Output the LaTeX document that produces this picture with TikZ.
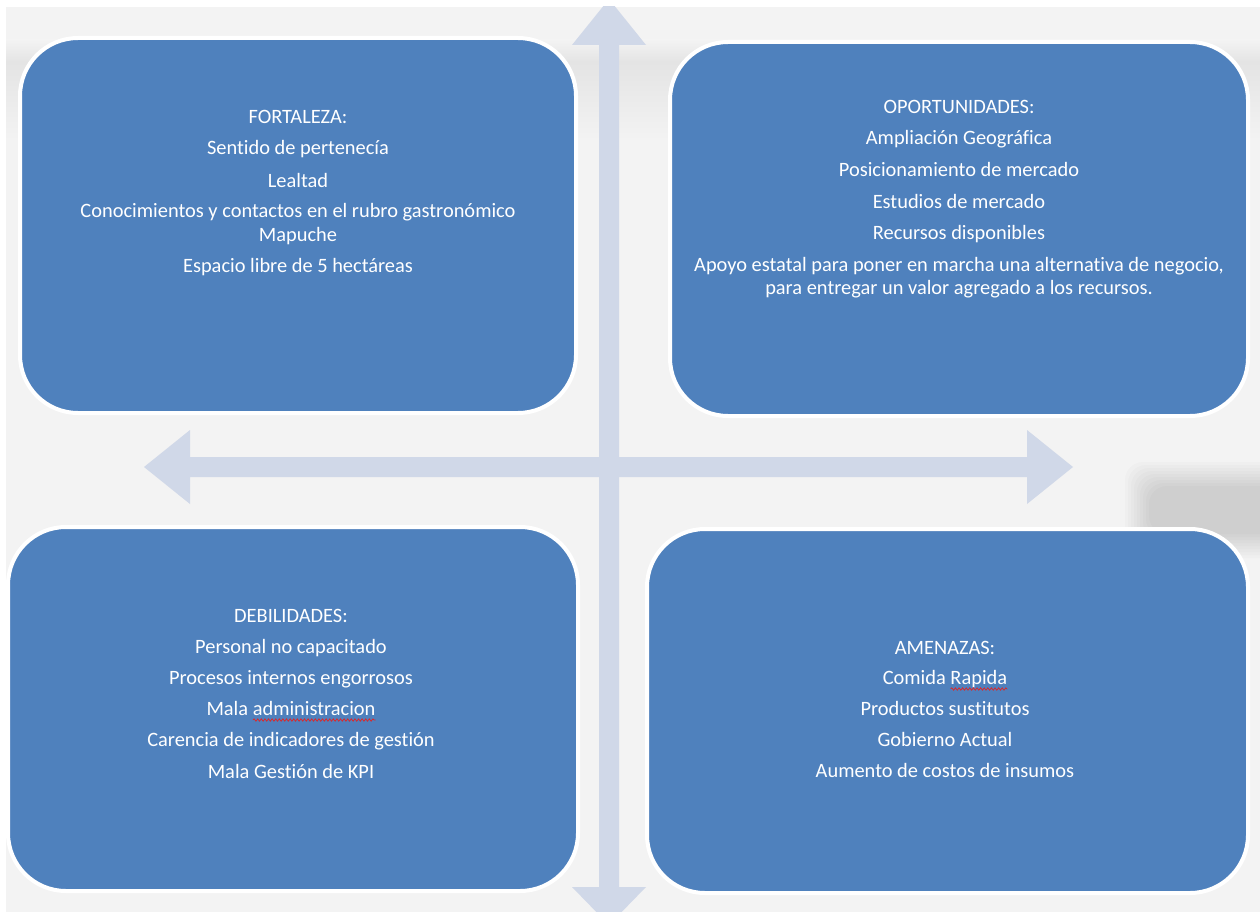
\documentclass[tikz,border=0pt]{standalone}
\usepackage{fontspec}
\setmainfont{Carlito}[Ligatures=NoCommon]
\usetikzlibrary{calc,decorations.pathmorphing}
\definecolor{swotblue}{HTML}{4F81BD}
\definecolor{axisblue}{HTML}{D0D8E8}
\definecolor{paper}{HTML}{F3F3F3}
\definecolor{paperdark}{HTML}{E4E4E4}
\definecolor{spellred}{HTML}{E02424}

\begin{document}
\begin{tikzpicture}[x=1pt,y=-1pt,
  swotbox/.style={draw=white, line width=4pt, fill=swotblue, rounded corners=58pt, inner sep=0pt},
  swotline/.style={text=white, font=\fontsize{20.4}{24}\selectfont, inner sep=0pt, anchor=base},
  axisfill/.style={fill=axisblue},
  spellwave/.style={draw=spellred, line width=0.7pt, decorate,
    decoration={snake, amplitude=1.2pt, segment length=3.6pt}}]
\fontsize{20.4}{24}\selectfont
\useasboundingbox (0,0) rectangle (1260,912);
\fill[white] (0,0) rectangle (1260,912);

\begin{scope}
\clip (6,7) rectangle (1260,912);
% page background with a soft grey band near the top
\fill[paper] (6,7) rectangle (1260,912);
\shade[top color=paper, bottom color=paperdark] (6,40) rectangle (1260,62);
\shade[top color=paperdark, bottom color=paper] (6,62) rectangle (1260,140);
% soft grey smudge on the right edge
\foreach \g in {0,3,...,24}
  \fill[black, opacity=0.014, rounded corners=18pt] (1125+\g,462+\g) rectangle (1290,558-\g);

% vertical double arrow
\fill[axisfill] (609,-1) -- (646,45) -- (619,45) -- (619,887) -- (646,887) -- (609,925)
  -- (572,887) -- (599,887) -- (599,45) -- (572,45) -- cycle;
% horizontal double arrow
\fill[axisfill] (144,467) -- (190,430) -- (190,457) -- (1027,457) -- (1027,430) -- (1073,467)
  -- (1027,504) -- (1027,477) -- (190,477) -- (190,504) -- cycle;

% the four quadrants
\node[swotbox, minimum width=556pt, minimum height=375pt] (fo) at (298,225.5) {};
\node[swotbox, minimum width=578pt, minimum height=374pt] (op) at (959,229) {};
\node[swotbox, minimum width=570pt, minimum height=364pt] (de) at (293,709) {};
\node[swotbox, minimum width=601pt, minimum height=364pt] (am) at (947.5,711) {};
\end{scope}

% quadrant texts, one node per line
\foreach \t/\yy [count=\i] in {FORTALEZA:/124, Sentido de pertenecía/155, Lealtad/187,
    Conocimientos y contactos en el rubro gastronómico/218, Mapuche/241,
    Espacio libre de 5 hectáreas/272}
  \node[swotline] (fo\i) at (298,\yy) {\t};

\foreach \t/\yy [count=\i] in {OPORTUNIDADES:/114, Ampliación Geográfica/145,
    Posicionamiento de mercado/177, Estudios de mercado/208, Recursos disponibles/239,
    {Apoyo estatal para poner en marcha una alternativa de negocio,}/271,
    para entregar un valor agregado a los recursos./294}
  \node[swotline] (op\i) at (959,\yy) {\t};

\foreach \t/\yy [count=\i] in {DEBILIDADES:/622, Personal no capacitado/653,
    Procesos internos engorrosos/684, Mala administracion/715,
    Carencia de indicadores de gestión/746, Mala Gestión de KPI/778}
  \node[swotline] (de\i) at (291,\yy) {\t};

\foreach \t/\yy [count=\i] in {AMENAZAS:/654, Comida Rapida/684, Productos sustitutos/715,
    Gobierno Actual/746, Aumento de costos de insumos/777}
  \node[swotline] (am\i) at (945,\yy) {\t};

% spell-check underlines
\draw[spellwave] let \p1=(de4.base east), \n1={width("administracion")} in
  (\x1-\n1,\y1-5pt) -- (\x1,\y1-5pt);
\draw[spellwave] let \p1=(am2.base east), \n1={width("Rapida")} in
  (\x1-\n1,\y1-5pt) -- (\x1,\y1-5pt);
\end{tikzpicture}
\end{document}
